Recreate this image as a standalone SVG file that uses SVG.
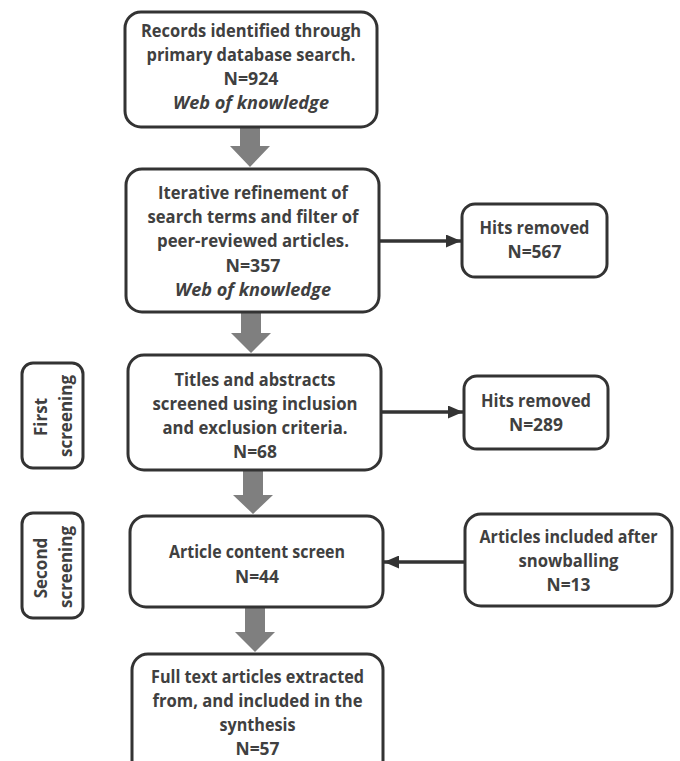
<svg xmlns="http://www.w3.org/2000/svg" width="680" height="761" viewBox="0 0 680 761">
<style>
  .box { fill: #ffffff; stroke: #333333; stroke-width: 3; }
  .t { font-family: "Open Sans", "DejaVu Sans", sans-serif; font-weight: bold; font-size: 18.5px; fill: #404040; text-anchor: middle; }
  .it { font-style: italic; }
  .side { font-family: "Open Sans", "DejaVu Sans", sans-serif; font-weight: bold; font-size: 17px; fill: #404040; text-anchor: middle; }
  .big { fill: #7f7f7f; }
  .conn { stroke: #333333; stroke-width: 3.5; fill: none; }
</style>
<defs>
  <marker id="ah" viewBox="0 0 15 13" refX="15" refY="6.5" markerWidth="15" markerHeight="13" markerUnits="userSpaceOnUse" orient="auto">
    <path d="M0,0 L15,6.5 L0,13 z" fill="#333333"/>
  </marker>
</defs>

<g id="connectors">
  <polygon class="big" points="240,127 260,127 260,146 270,146 250,167 230,146 240,146"/>
  <polygon class="big" points="241,312 261,312 261,333 271,333 251,353 231,333 241,333"/>
  <polygon class="big" points="243,470 263,470 263,495 273,495 253,514 233,495 243,495"/>
  <polygon class="big" points="245,607 265,607 265,632 275,632 255,652 235,632 245,632"/>
  <line class="conn" x1="380" y1="241" x2="461" y2="241" marker-end="url(#ah)"/>
  <line class="conn" x1="382" y1="412" x2="463" y2="412" marker-end="url(#ah)"/>
  <line class="conn" x1="465" y1="562" x2="384" y2="562" marker-end="url(#ah)"/>
</g>

<g id="records">
  <rect class="box" x="125" y="12" width="252" height="115" rx="16"/>
  <text class="t" x="251" y="37" textLength="220" lengthAdjust="spacingAndGlyphs">Records identified through</text>
  <text class="t" x="251" y="61" textLength="209" lengthAdjust="spacingAndGlyphs">primary database search.</text>
  <text class="t" x="251" y="85" textLength="55" lengthAdjust="spacingAndGlyphs">N=924</text>
  <text class="t it" x="251" y="109" textLength="156" lengthAdjust="spacingAndGlyphs">Web of knowledge</text>
</g>

<g id="refinement">
  <rect class="box" x="126" y="169" width="253" height="143" rx="16"/>
  <text class="t" x="253" y="199" textLength="190" lengthAdjust="spacingAndGlyphs">Iterative refinement of</text>
  <text class="t" x="253" y="223" textLength="211" lengthAdjust="spacingAndGlyphs">search terms and filter of</text>
  <text class="t" x="253" y="247" textLength="192" lengthAdjust="spacingAndGlyphs">peer-reviewed articles.</text>
  <text class="t" x="253" y="272" textLength="55" lengthAdjust="spacingAndGlyphs">N=357</text>
  <text class="t it" x="253" y="296" textLength="156" lengthAdjust="spacingAndGlyphs">Web of knowledge</text>
</g>

<g id="hits1">
  <rect class="box" x="462" y="204" width="145" height="73" rx="13"/>
  <text class="t" x="534.5" y="234" textLength="110" lengthAdjust="spacingAndGlyphs">Hits removed</text>
  <text class="t" x="534.5" y="258" textLength="54" lengthAdjust="spacingAndGlyphs">N=567</text>
</g>

<g id="first-screening">
  <rect class="box" x="22" y="363" width="61" height="105" rx="11"/>
  <text class="side" transform="translate(47,417) rotate(-90)">First</text>
  <text class="side" transform="translate(72,416) rotate(-90)">screening</text>
</g>

<g id="titles">
  <rect class="box" x="128" y="355" width="253" height="115" rx="16"/>
  <text class="t" x="255" y="386" textLength="161" lengthAdjust="spacingAndGlyphs">Titles and abstracts</text>
  <text class="t" x="255" y="410" textLength="205" lengthAdjust="spacingAndGlyphs">screened using inclusion</text>
  <text class="t" x="255" y="434" textLength="185" lengthAdjust="spacingAndGlyphs">and exclusion criteria.</text>
  <text class="t" x="255" y="458" textLength="44" lengthAdjust="spacingAndGlyphs">N=68</text>
</g>

<g id="hits2">
  <rect class="box" x="464" y="376" width="144" height="73" rx="13"/>
  <text class="t" x="536" y="407" textLength="110" lengthAdjust="spacingAndGlyphs">Hits removed</text>
  <text class="t" x="536" y="431" textLength="54" lengthAdjust="spacingAndGlyphs">N=289</text>
</g>

<g id="second-screening">
  <rect class="box" x="22" y="513" width="61" height="105" rx="11"/>
  <text class="side" transform="translate(47,568) rotate(-90)">Second</text>
  <text class="side" transform="translate(72,567) rotate(-90)">screening</text>
</g>

<g id="content">
  <rect class="box" x="130" y="516" width="253" height="91" rx="16"/>
  <text class="t" x="257" y="558" textLength="176" lengthAdjust="spacingAndGlyphs">Article content screen</text>
  <text class="t" x="257" y="583" textLength="44" lengthAdjust="spacingAndGlyphs">N=44</text>
</g>

<g id="snowballing">
  <rect class="box" x="465" y="514" width="207" height="92" rx="16"/>
  <text class="t" x="568.5" y="543" textLength="178" lengthAdjust="spacingAndGlyphs">Articles included after</text>
  <text class="t" x="568.5" y="567" textLength="100" lengthAdjust="spacingAndGlyphs">snowballing</text>
  <text class="t" x="568.5" y="591" textLength="44" lengthAdjust="spacingAndGlyphs">N=13</text>
</g>

<g id="synthesis">
  <rect class="box" x="132" y="654" width="251" height="125" rx="16"/>
  <text class="t" x="257.5" y="683" textLength="213" lengthAdjust="spacingAndGlyphs">Full text articles extracted</text>
  <text class="t" x="257.5" y="707" textLength="210" lengthAdjust="spacingAndGlyphs">from, and included in the</text>
  <text class="t" x="257.5" y="731" textLength="76" lengthAdjust="spacingAndGlyphs">synthesis</text>
  <text class="t" x="257.5" y="755" textLength="44" lengthAdjust="spacingAndGlyphs">N=57</text>
</g>
</svg>
